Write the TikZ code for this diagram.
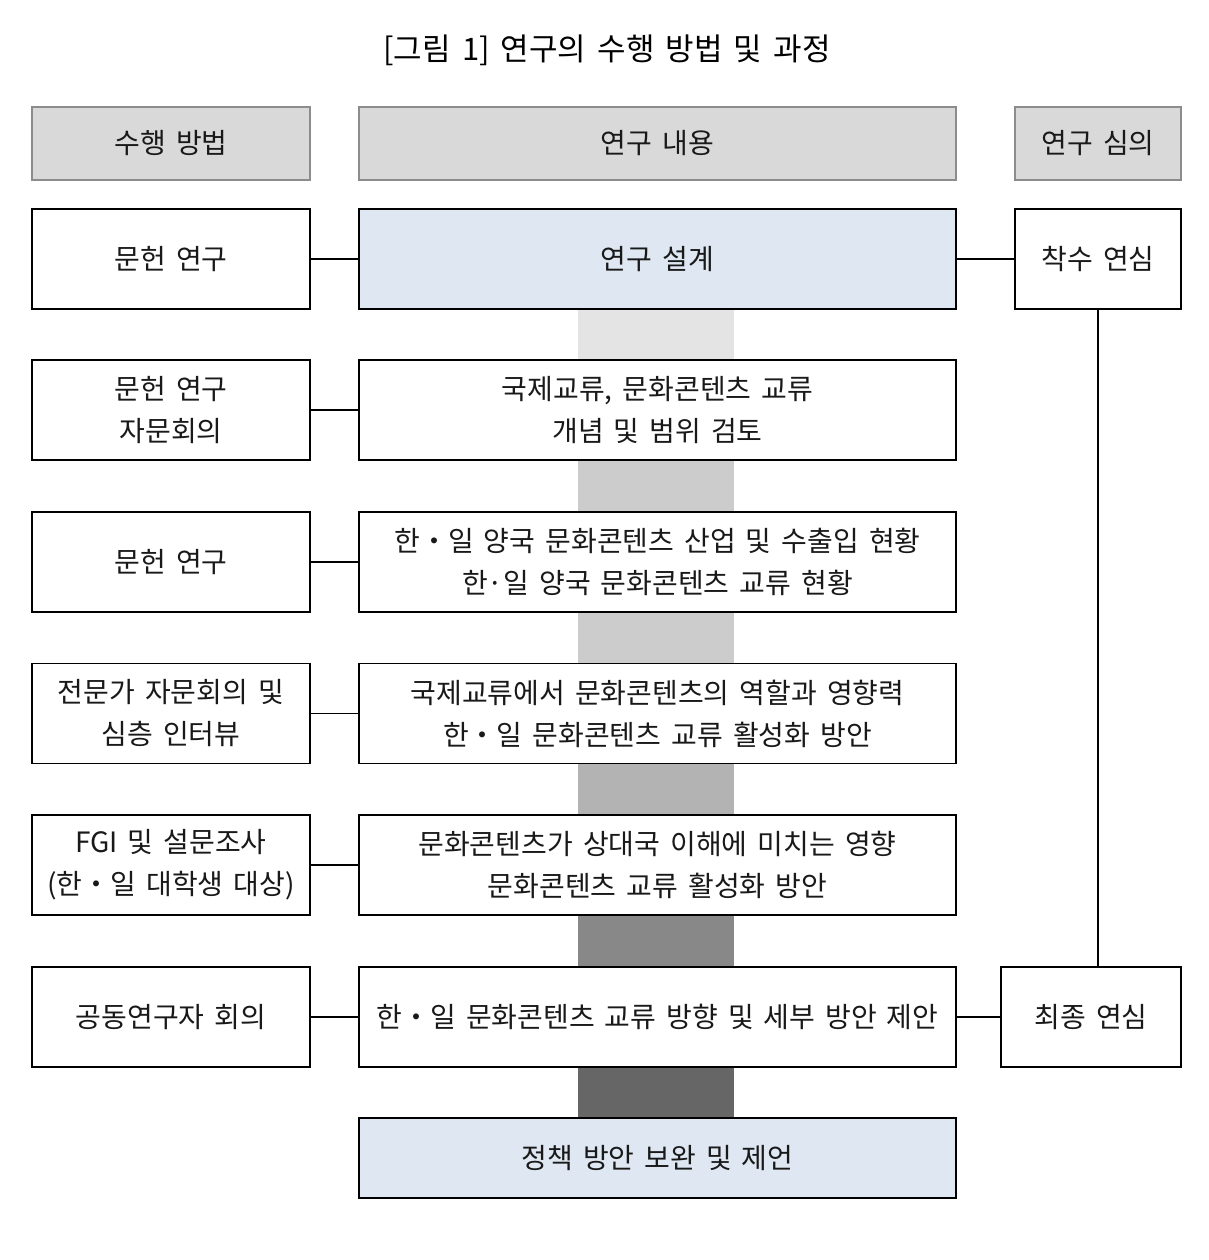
\documentclass[tikz,border=0pt]{standalone}
\usepackage{fontspec}
\setmainfont[WordSpace=1.6]{Noto Sans CJK KR}
\definecolor{hdrfill}{HTML}{D9D9D9}
\definecolor{hdrline}{HTML}{8C8C8C}
\definecolor{bluefill}{HTML}{DEE7F2}
\definecolor{barA}{HTML}{E4E4E4}
\definecolor{barB}{HTML}{CCCCCC}
\definecolor{barC}{HTML}{B3B3B3}
\definecolor{barD}{HTML}{888888}
\definecolor{barE}{HTML}{666666}
\begin{document}
\begin{tikzpicture}[x=1pt,y=-1pt,
  txt/.style={font=\fontsize{28}{42}\selectfont, align=center, text=black!90},
  hdrbox/.style={txt, draw=hdrline, line width=1.2pt, fill=hdrfill, minimum height=73pt, inner sep=0pt},
  plainbox/.style={txt, draw=black, line width=1.4pt, fill=white, minimum height=100pt, inner sep=0pt},
  bluebox/.style={plainbox, fill=bluefill},
  leftw/.style={minimum width=278pt},
  midw/.style={minimum width=597pt},
  rightw/.style={minimum width=166pt},
  barnode/.style={inner sep=0pt, minimum width=156pt, minimum height=52pt},
  conn/.style={draw=black, line width=1.2pt}
]
\useasboundingbox (0,0) rectangle (1209,1260);

% gray bars behind the centre column
\node[barnode, fill=barA] (b1) at (656,334.5) {};
\node[barnode, fill=barB] (b2) at (656,486) {};
\node[barnode, fill=barB] (b3) at (656,637.5) {};
\node[barnode, fill=barC] (b4) at (656,789.5) {};
\node[barnode, fill=barD] (b5) at (656,941) {};
\node[barnode, fill=barE] (b6) at (656,1092.5) {};

% title
\node[font=\fontsize{31}{36}\selectfont, text=black] (title) at (607,50) {[그림 1] 연구의 수행 방법 및 과정};

% headers
\node[hdrbox, leftw] (h1) at (171,143.5) {수행 방법};
\node[hdrbox, midw] (h2) at (657.5,143.5) {연구 내용};
\node[hdrbox, rightw] (h3) at (1098,143.5) {연구 심의};

% row 1
\node[plainbox, leftw] (l1) at (171,259) {문헌 연구};
\node[bluebox, midw] (c1) at (657.5,259) {연구 설계};
\node[plainbox, rightw] (r1) at (1098,259) {착수 연심};

% row 2
\node[plainbox, leftw] (l2) at (171,410) {문헌 연구\\자문회의};
\node[plainbox, midw] (c2) at (657.5,410) {국제교류, 문화콘텐츠 교류\\개념 및 범위 검토};

% row 3
\node[plainbox, leftw] (l3) at (171,562) {문헌 연구};
\node[plainbox, midw] (c3) at (657.5,562) {한・일 양국 문화콘텐츠 산업 및 수출입 현황\\한·일 양국 문화콘텐츠 교류 현황};

% row 4
\node[plainbox, leftw] (l4) at (171,713.5) {전문가 자문회의 및\\심층 인터뷰};
\node[plainbox, midw] (c4) at (657.5,713.5) {국제교류에서 문화콘텐츠의 역할과 영향력\\한・일 문화콘텐츠 교류 활성화 방안};

% row 5
\node[plainbox, leftw] (l5) at (171,865) {FGI 및 설문조사\\(한・일 대학생 대상)};
\node[plainbox, midw] (c5) at (657.5,865) {문화콘텐츠가 상대국 이해에 미치는 영향\\문화콘텐츠 교류 활성화 방안};

% row 6
\node[plainbox, leftw] (l6) at (171,1017) {공동연구자 회의};
\node[plainbox, midw] (c6) at (657.5,1017) {한・일 문화콘텐츠 교류 방향 및 세부 방안 제안};
\node[plainbox, minimum width=180pt] (r6) at (1091,1017) {최종 연심};

% final
\node[bluebox, midw, minimum height=80pt] (c7) at (657.5,1158) {정책 방안 보완 및 제언};

% connectors
\draw[conn] (l1.east) -- (c1.west);
\draw[conn] (c1.east) -- (r1.west);
\draw[conn] (l2.east) -- (c2.west);
\draw[conn] (l3.east) -- (c3.west);
\draw[conn] (l4.east) -- (c4.west);
\draw[conn] (l5.east) -- (c5.west);
\draw[conn] (l6.east) -- (c6.west);
\draw[conn] (c6.east) -- (r6.west);
\draw[conn] (r1.south) -- (r1.south |- r6.north);
\end{tikzpicture}
\end{document}
